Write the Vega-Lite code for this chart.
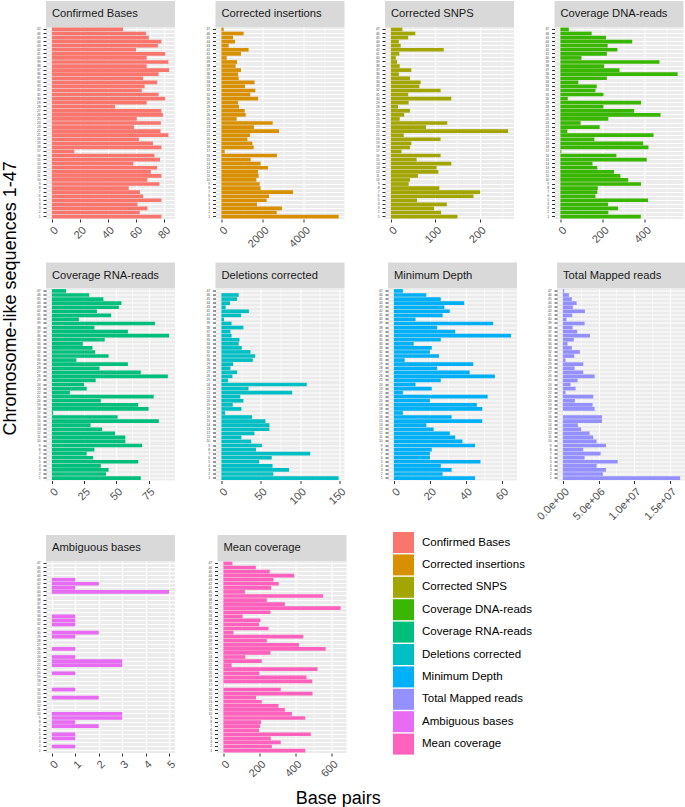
{
"$schema": "https://vega.github.io/schema/vega-lite/v6.json",
"padding": {"left": 2, "top": 1, "right": 0, "bottom": 0},
"datasets": {"d": [
{"m":"Confirmed Bases","s":1,"v":78},{"m":"Confirmed Bases","s":2,"v":62.5},{"m":"Confirmed Bases","s":3,"v":68},{"m":"Confirmed Bases","s":4,"v":61},{"m":"Confirmed Bases","s":5,"v":78},{"m":"Confirmed Bases","s":6,"v":65},{"m":"Confirmed Bases","s":7,"v":62.7},{"m":"Confirmed Bases","s":8,"v":54.7},{"m":"Confirmed Bases","s":9,"v":76.6},{"m":"Confirmed Bases","s":10,"v":68},
{"m":"Confirmed Bases","s":11,"v":78},{"m":"Confirmed Bases","s":12,"v":70.5},{"m":"Confirmed Bases","s":13,"v":75},{"m":"Confirmed Bases","s":14,"v":58},{"m":"Confirmed Bases","s":15,"v":77},{"m":"Confirmed Bases","s":16,"v":73},{"m":"Confirmed Bases","s":17,"v":16},{"m":"Confirmed Bases","s":18,"v":78},{"m":"Confirmed Bases","s":19,"v":72},{"m":"Confirmed Bases","s":20,"v":62},
{"m":"Confirmed Bases","s":21,"v":83},{"m":"Confirmed Bases","s":22,"v":77.4},{"m":"Confirmed Bases","s":23,"v":58.5},{"m":"Confirmed Bases","s":24,"v":77.6},{"m":"Confirmed Bases","s":25,"v":60.5},{"m":"Confirmed Bases","s":26,"v":79},{"m":"Confirmed Bases","s":27,"v":78},{"m":"Confirmed Bases","s":28,"v":45},{"m":"Confirmed Bases","s":29,"v":67.5},{"m":"Confirmed Bases","s":30,"v":80.7},
{"m":"Confirmed Bases","s":31,"v":76},{"m":"Confirmed Bases","s":32,"v":64},{"m":"Confirmed Bases","s":33,"v":66},{"m":"Confirmed Bases","s":34,"v":75},{"m":"Confirmed Bases","s":35,"v":65},{"m":"Confirmed Bases","s":36,"v":76},{"m":"Confirmed Bases","s":37,"v":83.5},{"m":"Confirmed Bases","s":38,"v":67.5},{"m":"Confirmed Bases","s":39,"v":83},{"m":"Confirmed Bases","s":40,"v":67.5},
{"m":"Confirmed Bases","s":41,"v":80.7},{"m":"Confirmed Bases","s":42,"v":60},{"m":"Confirmed Bases","s":43,"v":75.5},{"m":"Confirmed Bases","s":44,"v":78},{"m":"Confirmed Bases","s":45,"v":69},{"m":"Confirmed Bases","s":46,"v":67},{"m":"Confirmed Bases","s":47,"v":50.7},
{"m":"Corrected insertions","s":1,"v":5680},{"m":"Corrected insertions","s":2,"v":2680},{"m":"Corrected insertions","s":3,"v":2935},{"m":"Corrected insertions","s":4,"v":1725},{"m":"Corrected insertions","s":5,"v":2195},{"m":"Corrected insertions","s":6,"v":2310},{"m":"Corrected insertions","s":7,"v":3470},{"m":"Corrected insertions","s":8,"v":1900},{"m":"Corrected insertions","s":9,"v":1855},{"m":"Corrected insertions","s":10,"v":1695},
{"m":"Corrected insertions","s":11,"v":1805},{"m":"Corrected insertions","s":12,"v":1775},{"m":"Corrected insertions","s":13,"v":2260},{"m":"Corrected insertions","s":14,"v":1900},{"m":"Corrected insertions","s":15,"v":1420},{"m":"Corrected insertions","s":16,"v":2690},{"m":"Corrected insertions","s":17,"v":160},{"m":"Corrected insertions","s":18,"v":1565},{"m":"Corrected insertions","s":19,"v":1500},{"m":"Corrected insertions","s":20,"v":1260},
{"m":"Corrected insertions","s":21,"v":1390},{"m":"Corrected insertions","s":22,"v":2790},{"m":"Corrected insertions","s":23,"v":1580},{"m":"Corrected insertions","s":24,"v":2485},{"m":"Corrected insertions","s":25,"v":740},{"m":"Corrected insertions","s":26,"v":1180},{"m":"Corrected insertions","s":27,"v":1130},{"m":"Corrected insertions","s":28,"v":855},{"m":"Corrected insertions","s":29,"v":805},{"m":"Corrected insertions","s":30,"v":1775},
{"m":"Corrected insertions","s":31,"v":1400},{"m":"Corrected insertions","s":32,"v":1645},{"m":"Corrected insertions","s":33,"v":1145},{"m":"Corrected insertions","s":34,"v":1610},{"m":"Corrected insertions","s":35,"v":840},{"m":"Corrected insertions","s":36,"v":805},{"m":"Corrected insertions","s":37,"v":950},{"m":"Corrected insertions","s":38,"v":690},{"m":"Corrected insertions","s":39,"v":760},{"m":"Corrected insertions","s":40,"v":260},
{"m":"Corrected insertions","s":41,"v":950},{"m":"Corrected insertions","s":42,"v":1320},{"m":"Corrected insertions","s":43,"v":355},{"m":"Corrected insertions","s":44,"v":660},{"m":"Corrected insertions","s":45,"v":565},{"m":"Corrected insertions","s":46,"v":1080},{"m":"Corrected insertions","s":47,"v":113},
{"m":"Corrected SNPS","s":1,"v":150},{"m":"Corrected SNPS","s":2,"v":113},{"m":"Corrected SNPS","s":3,"v":97},{"m":"Corrected SNPS","s":4,"v":126},{"m":"Corrected SNPS","s":5,"v":59},{"m":"Corrected SNPS","s":6,"v":186},{"m":"Corrected SNPS","s":7,"v":201},{"m":"Corrected SNPS","s":8,"v":109},{"m":"Corrected SNPS","s":9,"v":40},{"m":"Corrected SNPS","s":10,"v":43},
{"m":"Corrected SNPS","s":11,"v":61},{"m":"Corrected SNPS","s":12,"v":107},{"m":"Corrected SNPS","s":13,"v":103},{"m":"Corrected SNPS","s":14,"v":136},{"m":"Corrected SNPS","s":15,"v":58},{"m":"Corrected SNPS","s":16,"v":112},{"m":"Corrected SNPS","s":17,"v":24},{"m":"Corrected SNPS","s":18,"v":43},{"m":"Corrected SNPS","s":19,"v":46},{"m":"Corrected SNPS","s":20,"v":112},
{"m":"Corrected SNPS","s":21,"v":29},{"m":"Corrected SNPS","s":22,"v":264},{"m":"Corrected SNPS","s":23,"v":79},{"m":"Corrected SNPS","s":24,"v":127},{"m":"Corrected SNPS","s":25,"v":20},{"m":"Corrected SNPS","s":26,"v":30},{"m":"Corrected SNPS","s":27,"v":43},{"m":"Corrected SNPS","s":28,"v":16},{"m":"Corrected SNPS","s":29,"v":40},{"m":"Corrected SNPS","s":30,"v":136},
{"m":"Corrected SNPS","s":31,"v":39},{"m":"Corrected SNPS","s":32,"v":112},{"m":"Corrected SNPS","s":33,"v":64},{"m":"Corrected SNPS","s":34,"v":67},{"m":"Corrected SNPS","s":35,"v":43},{"m":"Corrected SNPS","s":36,"v":18},{"m":"Corrected SNPS","s":37,"v":46},{"m":"Corrected SNPS","s":38,"v":20},{"m":"Corrected SNPS","s":39,"v":14},{"m":"Corrected SNPS","s":40,"v":11},
{"m":"Corrected SNPS","s":41,"v":19},{"m":"Corrected SNPS","s":42,"v":119},{"m":"Corrected SNPS","s":43,"v":22},{"m":"Corrected SNPS","s":44,"v":18},{"m":"Corrected SNPS","s":45,"v":39},{"m":"Corrected SNPS","s":46,"v":55},{"m":"Corrected SNPS","s":47,"v":26},
{"m":"Coverage DNA-reads","s":1,"v":381},{"m":"Coverage DNA-reads","s":2,"v":227},{"m":"Coverage DNA-reads","s":3,"v":273},{"m":"Coverage DNA-reads","s":4,"v":226},{"m":"Coverage DNA-reads","s":5,"v":415},{"m":"Coverage DNA-reads","s":6,"v":166},{"m":"Coverage DNA-reads","s":7,"v":175},{"m":"Coverage DNA-reads","s":8,"v":177},{"m":"Coverage DNA-reads","s":9,"v":382},{"m":"Coverage DNA-reads","s":10,"v":321},
{"m":"Coverage DNA-reads","s":11,"v":284},{"m":"Coverage DNA-reads","s":12,"v":254},{"m":"Coverage DNA-reads","s":13,"v":175},{"m":"Coverage DNA-reads","s":14,"v":152},{"m":"Coverage DNA-reads","s":15,"v":409},{"m":"Coverage DNA-reads","s":16,"v":265},{"m":"Coverage DNA-reads","s":17,"v":5},{"m":"Coverage DNA-reads","s":18,"v":417},{"m":"Coverage DNA-reads","s":19,"v":392},{"m":"Coverage DNA-reads","s":20,"v":161},
{"m":"Coverage DNA-reads","s":21,"v":441},{"m":"Coverage DNA-reads","s":22,"v":33},{"m":"Coverage DNA-reads","s":23,"v":186},{"m":"Coverage DNA-reads","s":24,"v":96},{"m":"Coverage DNA-reads","s":25,"v":227},{"m":"Coverage DNA-reads","s":26,"v":474},{"m":"Coverage DNA-reads","s":27,"v":349},{"m":"Coverage DNA-reads","s":28,"v":204},{"m":"Coverage DNA-reads","s":29,"v":382},{"m":"Coverage DNA-reads","s":30,"v":35},
{"m":"Coverage DNA-reads","s":31,"v":204},{"m":"Coverage DNA-reads","s":32,"v":166},{"m":"Coverage DNA-reads","s":33,"v":172},{"m":"Coverage DNA-reads","s":34,"v":85},{"m":"Coverage DNA-reads","s":35,"v":220},{"m":"Coverage DNA-reads","s":36,"v":555},{"m":"Coverage DNA-reads","s":37,"v":280},{"m":"Coverage DNA-reads","s":38,"v":207},{"m":"Coverage DNA-reads","s":39,"v":469},{"m":"Coverage DNA-reads","s":40,"v":100},
{"m":"Coverage DNA-reads","s":41,"v":220},{"m":"Coverage DNA-reads","s":42,"v":270},{"m":"Coverage DNA-reads","s":43,"v":224},{"m":"Coverage DNA-reads","s":44,"v":340},{"m":"Coverage DNA-reads","s":45,"v":216},{"m":"Coverage DNA-reads","s":46,"v":148},{"m":"Coverage DNA-reads","s":47,"v":40},
{"m":"Coverage RNA-reads","s":1,"v":69},{"m":"Coverage RNA-reads","s":2,"v":42},{"m":"Coverage RNA-reads","s":3,"v":44},{"m":"Coverage RNA-reads","s":4,"v":38},{"m":"Coverage RNA-reads","s":5,"v":67},{"m":"Coverage RNA-reads","s":6,"v":32},{"m":"Coverage RNA-reads","s":7,"v":27},{"m":"Coverage RNA-reads","s":8,"v":33},{"m":"Coverage RNA-reads","s":9,"v":70},{"m":"Coverage RNA-reads","s":10,"v":57},
{"m":"Coverage RNA-reads","s":11,"v":57},{"m":"Coverage RNA-reads","s":12,"v":49},{"m":"Coverage RNA-reads","s":13,"v":39},{"m":"Coverage RNA-reads","s":14,"v":30},{"m":"Coverage RNA-reads","s":15,"v":83},{"m":"Coverage RNA-reads","s":16,"v":51},{"m":"Coverage RNA-reads","s":17,"v":1},{"m":"Coverage RNA-reads","s":18,"v":75},{"m":"Coverage RNA-reads","s":19,"v":67},{"m":"Coverage RNA-reads","s":20,"v":38},
{"m":"Coverage RNA-reads","s":21,"v":79},{"m":"Coverage RNA-reads","s":22,"v":14},{"m":"Coverage RNA-reads","s":23,"v":27},{"m":"Coverage RNA-reads","s":24,"v":25},{"m":"Coverage RNA-reads","s":25,"v":34},{"m":"Coverage RNA-reads","s":26,"v":90},{"m":"Coverage RNA-reads","s":27,"v":69},{"m":"Coverage RNA-reads","s":28,"v":37},{"m":"Coverage RNA-reads","s":29,"v":59},{"m":"Coverage RNA-reads","s":30,"v":19},
{"m":"Coverage RNA-reads","s":31,"v":44},{"m":"Coverage RNA-reads","s":32,"v":33.6},{"m":"Coverage RNA-reads","s":33,"v":31.5},{"m":"Coverage RNA-reads","s":34,"v":24},{"m":"Coverage RNA-reads","s":35,"v":41},{"m":"Coverage RNA-reads","s":36,"v":91},{"m":"Coverage RNA-reads","s":37,"v":59},{"m":"Coverage RNA-reads","s":38,"v":33},{"m":"Coverage RNA-reads","s":39,"v":80},{"m":"Coverage RNA-reads","s":40,"v":21},
{"m":"Coverage RNA-reads","s":41,"v":46},{"m":"Coverage RNA-reads","s":42,"v":35},{"m":"Coverage RNA-reads","s":43,"v":52},{"m":"Coverage RNA-reads","s":44,"v":54},{"m":"Coverage RNA-reads","s":45,"v":40},{"m":"Coverage RNA-reads","s":46,"v":29},{"m":"Coverage RNA-reads","s":47,"v":11},
{"m":"Deletions corrected","s":1,"v":149},{"m":"Deletions corrected","s":2,"v":66},{"m":"Deletions corrected","s":3,"v":86},{"m":"Deletions corrected","s":4,"v":65},{"m":"Deletions corrected","s":5,"v":48},{"m":"Deletions corrected","s":6,"v":64},{"m":"Deletions corrected","s":7,"v":113},{"m":"Deletions corrected","s":8,"v":44},{"m":"Deletions corrected","s":9,"v":51.5},{"m":"Deletions corrected","s":10,"v":38},
{"m":"Deletions corrected","s":11,"v":25.5},{"m":"Deletions corrected","s":12,"v":42},{"m":"Deletions corrected","s":13,"v":61},{"m":"Deletions corrected","s":14,"v":61},{"m":"Deletions corrected","s":15,"v":56},{"m":"Deletions corrected","s":16,"v":39},{"m":"Deletions corrected","s":17,"v":4.7},{"m":"Deletions corrected","s":18,"v":25.5},{"m":"Deletions corrected","s":19,"v":14.5},{"m":"Deletions corrected","s":20,"v":28},
{"m":"Deletions corrected","s":21,"v":24},{"m":"Deletions corrected","s":22,"v":90},{"m":"Deletions corrected","s":23,"v":34.5},{"m":"Deletions corrected","s":24,"v":108.5},{"m":"Deletions corrected","s":25,"v":8.5},{"m":"Deletions corrected","s":26,"v":14},{"m":"Deletions corrected","s":27,"v":20},{"m":"Deletions corrected","s":28,"v":11.5},{"m":"Deletions corrected","s":29,"v":15},{"m":"Deletions corrected","s":30,"v":40},
{"m":"Deletions corrected","s":31,"v":43},{"m":"Deletions corrected","s":32,"v":37},{"m":"Deletions corrected","s":33,"v":26},{"m":"Deletions corrected","s":34,"v":22},{"m":"Deletions corrected","s":35,"v":23},{"m":"Deletions corrected","s":36,"v":13},{"m":"Deletions corrected","s":37,"v":11.5},{"m":"Deletions corrected","s":38,"v":28},{"m":"Deletions corrected","s":39,"v":13},{"m":"Deletions corrected","s":40,"v":3.4},
{"m":"Deletions corrected","s":41,"v":25},{"m":"Deletions corrected","s":42,"v":35},{"m":"Deletions corrected","s":43,"v":5.5},{"m":"Deletions corrected","s":44,"v":11},{"m":"Deletions corrected","s":45,"v":20},{"m":"Deletions corrected","s":46,"v":22},{"m":"Deletions corrected","s":47,"v":0},
{"m":"Minimum Depth","s":1,"v":45},{"m":"Minimum Depth","s":2,"v":27},{"m":"Minimum Depth","s":3,"v":32},{"m":"Minimum Depth","s":4,"v":26},{"m":"Minimum Depth","s":5,"v":48},{"m":"Minimum Depth","s":6,"v":20},{"m":"Minimum Depth","s":7,"v":20},{"m":"Minimum Depth","s":8,"v":21},{"m":"Minimum Depth","s":9,"v":45},{"m":"Minimum Depth","s":10,"v":38},
{"m":"Minimum Depth","s":11,"v":34},{"m":"Minimum Depth","s":12,"v":31},{"m":"Minimum Depth","s":13,"v":22},{"m":"Minimum Depth","s":14,"v":18},{"m":"Minimum Depth","s":15,"v":49},{"m":"Minimum Depth","s":16,"v":32},{"m":"Minimum Depth","s":17,"v":5},{"m":"Minimum Depth","s":18,"v":49},{"m":"Minimum Depth","s":19,"v":46},{"m":"Minimum Depth","s":20,"v":20},
{"m":"Minimum Depth","s":21,"v":52},{"m":"Minimum Depth","s":22,"v":5},{"m":"Minimum Depth","s":23,"v":21},{"m":"Minimum Depth","s":24,"v":12},{"m":"Minimum Depth","s":25,"v":26},{"m":"Minimum Depth","s":26,"v":56},{"m":"Minimum Depth","s":27,"v":42},{"m":"Minimum Depth","s":28,"v":24},{"m":"Minimum Depth","s":29,"v":44},{"m":"Minimum Depth","s":30,"v":6},
{"m":"Minimum Depth","s":31,"v":25},{"m":"Minimum Depth","s":32,"v":20},{"m":"Minimum Depth","s":33,"v":21},{"m":"Minimum Depth","s":34,"v":11},{"m":"Minimum Depth","s":35,"v":26},{"m":"Minimum Depth","s":36,"v":65},{"m":"Minimum Depth","s":37,"v":34},{"m":"Minimum Depth","s":38,"v":24},{"m":"Minimum Depth","s":39,"v":55},{"m":"Minimum Depth","s":40,"v":12},
{"m":"Minimum Depth","s":41,"v":27},{"m":"Minimum Depth","s":42,"v":31},{"m":"Minimum Depth","s":43,"v":28},{"m":"Minimum Depth","s":44,"v":39},{"m":"Minimum Depth","s":45,"v":26},{"m":"Minimum Depth","s":46,"v":18},{"m":"Minimum Depth","s":47,"v":5},
{"m":"Total Mapped reads","s":1,"v":16400000},{"m":"Total Mapped reads","s":2,"v":5600000},{"m":"Total Mapped reads","s":3,"v":6030000},{"m":"Total Mapped reads","s":4,"v":4720000},{"m":"Total Mapped reads","s":5,"v":7660000},{"m":"Total Mapped reads","s":6,"v":3040000},{"m":"Total Mapped reads","s":7,"v":5280000},{"m":"Total Mapped reads","s":8,"v":2850000},{"m":"Total Mapped reads","s":9,"v":6030000},{"m":"Total Mapped reads","s":10,"v":4720000},
{"m":"Total Mapped reads","s":11,"v":4250000},{"m":"Total Mapped reads","s":12,"v":3740000},{"m":"Total Mapped reads","s":13,"v":2570000},{"m":"Total Mapped reads","s":14,"v":2100000},{"m":"Total Mapped reads","s":15,"v":5470000},{"m":"Total Mapped reads","s":16,"v":5470000},{"m":"Total Mapped reads","s":17,"v":30000},{"m":"Total Mapped reads","s":18,"v":4440000},{"m":"Total Mapped reads","s":19,"v":4160000},{"m":"Total Mapped reads","s":20,"v":1680000},
{"m":"Total Mapped reads","s":21,"v":4250000},{"m":"Total Mapped reads","s":22,"v":370000},{"m":"Total Mapped reads","s":23,"v":1780000},{"m":"Total Mapped reads","s":24,"v":1070000},{"m":"Total Mapped reads","s":25,"v":2060000},{"m":"Total Mapped reads","s":26,"v":4440000},{"m":"Total Mapped reads","s":27,"v":2850000},{"m":"Total Mapped reads","s":28,"v":1640000},{"m":"Total Mapped reads","s":29,"v":2850000},{"m":"Total Mapped reads","s":30,"v":370000},
{"m":"Total Mapped reads","s":31,"v":1590000},{"m":"Total Mapped reads","s":32,"v":2380000},{"m":"Total Mapped reads","s":33,"v":1260000},{"m":"Total Mapped reads","s":34,"v":650000},{"m":"Total Mapped reads","s":35,"v":1540000},{"m":"Total Mapped reads","s":36,"v":3790000},{"m":"Total Mapped reads","s":37,"v":2000000},{"m":"Total Mapped reads","s":38,"v":1360000},{"m":"Total Mapped reads","s":39,"v":3040000},{"m":"Total Mapped reads","s":40,"v":510000},
{"m":"Total Mapped reads","s":41,"v":1310000},{"m":"Total Mapped reads","s":42,"v":3080000},{"m":"Total Mapped reads","s":43,"v":1400000},{"m":"Total Mapped reads","s":44,"v":1920000},{"m":"Total Mapped reads","s":45,"v":1260000},{"m":"Total Mapped reads","s":46,"v":840000},{"m":"Total Mapped reads","s":47,"v":190000},
{"m":"Ambiguous bases","s":1,"v":0},{"m":"Ambiguous bases","s":2,"v":1},{"m":"Ambiguous bases","s":3,"v":0},{"m":"Ambiguous bases","s":4,"v":1},{"m":"Ambiguous bases","s":5,"v":1},{"m":"Ambiguous bases","s":6,"v":0},{"m":"Ambiguous bases","s":7,"v":2},{"m":"Ambiguous bases","s":8,"v":1},{"m":"Ambiguous bases","s":9,"v":3},{"m":"Ambiguous bases","s":10,"v":3},
{"m":"Ambiguous bases","s":11,"v":0},{"m":"Ambiguous bases","s":12,"v":0},{"m":"Ambiguous bases","s":13,"v":0},{"m":"Ambiguous bases","s":14,"v":2},{"m":"Ambiguous bases","s":15,"v":0},{"m":"Ambiguous bases","s":16,"v":1},{"m":"Ambiguous bases","s":17,"v":0},{"m":"Ambiguous bases","s":18,"v":0},{"m":"Ambiguous bases","s":19,"v":0},{"m":"Ambiguous bases","s":20,"v":1},
{"m":"Ambiguous bases","s":21,"v":0},{"m":"Ambiguous bases","s":22,"v":3},{"m":"Ambiguous bases","s":23,"v":3},{"m":"Ambiguous bases","s":24,"v":1},{"m":"Ambiguous bases","s":25,"v":0},{"m":"Ambiguous bases","s":26,"v":1},{"m":"Ambiguous bases","s":27,"v":0},{"m":"Ambiguous bases","s":28,"v":0},{"m":"Ambiguous bases","s":29,"v":1},{"m":"Ambiguous bases","s":30,"v":2},
{"m":"Ambiguous bases","s":31,"v":0},{"m":"Ambiguous bases","s":32,"v":1},{"m":"Ambiguous bases","s":33,"v":1},{"m":"Ambiguous bases","s":34,"v":1},{"m":"Ambiguous bases","s":35,"v":0},{"m":"Ambiguous bases","s":36,"v":0},{"m":"Ambiguous bases","s":37,"v":0},{"m":"Ambiguous bases","s":38,"v":0},{"m":"Ambiguous bases","s":39,"v":0},{"m":"Ambiguous bases","s":40,"v":5},
{"m":"Ambiguous bases","s":41,"v":1},{"m":"Ambiguous bases","s":42,"v":2},{"m":"Ambiguous bases","s":43,"v":1},{"m":"Ambiguous bases","s":44,"v":0},{"m":"Ambiguous bases","s":45,"v":0},{"m":"Ambiguous bases","s":46,"v":0},{"m":"Ambiguous bases","s":47,"v":0},
{"m":"Mean coverage","s":1,"v":454},{"m":"Mean coverage","s":2,"v":269},{"m":"Mean coverage","s":3,"v":318},{"m":"Mean coverage","s":4,"v":263},{"m":"Mean coverage","s":5,"v":485},{"m":"Mean coverage","s":6,"v":198},{"m":"Mean coverage","s":7,"v":204},{"m":"Mean coverage","s":8,"v":209},{"m":"Mean coverage","s":9,"v":454},{"m":"Mean coverage","s":10,"v":380},
{"m":"Mean coverage","s":11,"v":341},{"m":"Mean coverage","s":12,"v":306},{"m":"Mean coverage","s":13,"v":213},{"m":"Mean coverage","s":14,"v":181},{"m":"Mean coverage","s":15,"v":494},{"m":"Mean coverage","s":16,"v":318},{"m":"Mean coverage","s":17,"v":2},{"m":"Mean coverage","s":18,"v":493},{"m":"Mean coverage","s":19,"v":461},{"m":"Mean coverage","s":20,"v":200},
{"m":"Mean coverage","s":21,"v":522},{"m":"Mean coverage","s":22,"v":46},{"m":"Mean coverage","s":23,"v":213},{"m":"Mean coverage","s":24,"v":122},{"m":"Mean coverage","s":25,"v":261},{"m":"Mean coverage","s":26,"v":567},{"m":"Mean coverage","s":27,"v":419},{"m":"Mean coverage","s":28,"v":241},{"m":"Mean coverage","s":29,"v":443},{"m":"Mean coverage","s":30,"v":56},
{"m":"Mean coverage","s":31,"v":250},{"m":"Mean coverage","s":32,"v":198},{"m":"Mean coverage","s":33,"v":206},{"m":"Mean coverage","s":34,"v":107},{"m":"Mean coverage","s":35,"v":261},{"m":"Mean coverage","s":36,"v":650},{"m":"Mean coverage","s":37,"v":341},{"m":"Mean coverage","s":38,"v":241},{"m":"Mean coverage","s":39,"v":552},{"m":"Mean coverage","s":40,"v":120},
{"m":"Mean coverage","s":41,"v":265},{"m":"Mean coverage","s":42,"v":307},{"m":"Mean coverage","s":43,"v":278},{"m":"Mean coverage","s":44,"v":393},{"m":"Mean coverage","s":45,"v":257},{"m":"Mean coverage","s":46,"v":180},{"m":"Mean coverage","s":47,"v":50}
]},
"data": {"name": "d"},
"title": {"text": "Chromosome-like sequences 1-47", "orient": "left", "anchor": "middle", "fontSize": 18, "fontWeight": "normal", "color": "#000000", "font": "Liberation Sans", "offset": 16, "dx": 106},
"vconcat": [{
"title": {"text": "Base pairs", "orient": "bottom", "anchor": "middle", "fontSize": 18, "fontWeight": "normal", "color": "#000000", "font": "Liberation Sans", "offset": 11, "dx": -23},
"spacing": 12.5,
"vconcat": [
{"hconcat": [
{"vconcat": [
{"width": 129, "height": 26, "view": {"fill": "#D9D9D9", "stroke": null}, "transform": [{"filter": "datum.m === 'Confirmed Bases' && datum.s === 47"}], "mark": {"type": "text", "align": "left", "baseline": "middle", "fontSize": 11.2, "color": "#1A1A1A"}, "encoding": {"text": {"field": "m"}, "x": {"value": 6}}},
{"width": 129, "height": 192, "transform": [{"filter": "datum.m === 'Confirmed Bases'"}], "mark": "bar", "encoding": {
"y": {"field": "s", "type": "ordinal", "sort": "descending", "scale": {"paddingInner": 0.1, "paddingOuter": 0.15}, "axis": {"title": null}},
"x": {"field": "v", "type": "quantitative", "scale": {"domain": [-4.175, 87.675], "nice": false}, "axis": {"title": null, "values": [0,10,20,30,40,50,60,70,80], "format": "d", "labelExpr": "datum.value % 20 === 0 ? datum.label : ''", "gridWidth": {"condition": {"test": "datum.value % 20 === 0", "value": 1}, "value": 0.5}, "tickOpacity": {"condition": {"test": "datum.value % 20 === 0", "value": 1}, "value": 0}}},
"color": {"field": "m", "type": "nominal", "scale": {"domain": ["Confirmed Bases","Corrected insertions","Corrected SNPS","Coverage DNA-reads","Coverage RNA-reads","Deletions corrected","Minimum Depth","Total Mapped reads","Ambiguous bases","Mean coverage"], "range": ["#F8766D","#D89000","#A3A500","#39B600","#00BF7D","#00BFC4","#00B0F6","#9590FF","#E76BF3","#FF62BC"]}, "legend": {"orient": "none", "legendX": 347, "legendY": 531}}}}
], "spacing": 0, "bounds": "flush"},
{"vconcat": [
{"width": 129, "height": 26, "view": {"fill": "#D9D9D9", "stroke": null}, "transform": [{"filter": "datum.m === 'Corrected insertions' && datum.s === 47"}], "mark": {"type": "text", "align": "left", "baseline": "middle", "fontSize": 11.2, "color": "#1A1A1A"}, "encoding": {"text": {"field": "m"}, "x": {"value": 6}}},
{"width": 129, "height": 192, "transform": [{"filter": "datum.m === 'Corrected insertions'"}], "mark": "bar", "encoding": {
"y": {"field": "s", "type": "ordinal", "sort": "descending", "scale": {"paddingInner": 0.1, "paddingOuter": 0.15}, "axis": {"title": null}},
"x": {"field": "v", "type": "quantitative", "scale": {"domain": [-284, 5964], "nice": false}, "axis": {"title": null, "values": [0,1000,2000,3000,4000,5000], "format": "d", "labelExpr": "datum.value % 2000 === 0 ? datum.label : ''", "gridWidth": {"condition": {"test": "datum.value % 2000 === 0", "value": 1}, "value": 0.5}, "tickOpacity": {"condition": {"test": "datum.value % 2000 === 0", "value": 1}, "value": 0}}},
"color": {"field": "m", "type": "nominal", "scale": {"domain": ["Confirmed Bases","Corrected insertions","Corrected SNPS","Coverage DNA-reads","Coverage RNA-reads","Deletions corrected","Minimum Depth","Total Mapped reads","Ambiguous bases","Mean coverage"], "range": ["#F8766D","#D89000","#A3A500","#39B600","#00BF7D","#00BFC4","#00B0F6","#9590FF","#E76BF3","#FF62BC"]}, "legend": {"orient": "none", "legendX": 347, "legendY": 531}}}}
], "spacing": 0, "bounds": "flush"},
{"vconcat": [
{"width": 129, "height": 26, "view": {"fill": "#D9D9D9", "stroke": null}, "transform": [{"filter": "datum.m === 'Corrected SNPS' && datum.s === 47"}], "mark": {"type": "text", "align": "left", "baseline": "middle", "fontSize": 11.2, "color": "#1A1A1A"}, "encoding": {"text": {"field": "m"}, "x": {"value": 6}}},
{"width": 129, "height": 192, "transform": [{"filter": "datum.m === 'Corrected SNPS'"}], "mark": "bar", "encoding": {
"y": {"field": "s", "type": "ordinal", "sort": "descending", "scale": {"paddingInner": 0.1, "paddingOuter": 0.15}, "axis": {"title": null}},
"x": {"field": "v", "type": "quantitative", "scale": {"domain": [-13.2, 277.2], "nice": false}, "axis": {"title": null, "values": [0,50,100,150,200,250], "format": "d", "labelExpr": "datum.value % 100 === 0 ? datum.label : ''", "gridWidth": {"condition": {"test": "datum.value % 100 === 0", "value": 1}, "value": 0.5}, "tickOpacity": {"condition": {"test": "datum.value % 100 === 0", "value": 1}, "value": 0}}},
"color": {"field": "m", "type": "nominal", "scale": {"domain": ["Confirmed Bases","Corrected insertions","Corrected SNPS","Coverage DNA-reads","Coverage RNA-reads","Deletions corrected","Minimum Depth","Total Mapped reads","Ambiguous bases","Mean coverage"], "range": ["#F8766D","#D89000","#A3A500","#39B600","#00BF7D","#00BFC4","#00B0F6","#9590FF","#E76BF3","#FF62BC"]}, "legend": {"orient": "none", "legendX": 347, "legendY": 531}}}}
], "spacing": 0, "bounds": "flush"},
{"vconcat": [
{"width": 129, "height": 26, "view": {"fill": "#D9D9D9", "stroke": null}, "transform": [{"filter": "datum.m === 'Coverage DNA-reads' && datum.s === 47"}], "mark": {"type": "text", "align": "left", "baseline": "middle", "fontSize": 11.2, "color": "#1A1A1A"}, "encoding": {"text": {"field": "m"}, "x": {"value": 6}}},
{"width": 129, "height": 192, "transform": [{"filter": "datum.m === 'Coverage DNA-reads'"}], "mark": "bar", "encoding": {
"y": {"field": "s", "type": "ordinal", "sort": "descending", "scale": {"paddingInner": 0.1, "paddingOuter": 0.15}, "axis": {"title": null}},
"x": {"field": "v", "type": "quantitative", "scale": {"domain": [-27.75, 582.75], "nice": false}, "axis": {"title": null, "values": [0,100,200,300,400,500], "format": "d", "labelExpr": "datum.value % 200 === 0 ? datum.label : ''", "gridWidth": {"condition": {"test": "datum.value % 200 === 0", "value": 1}, "value": 0.5}, "tickOpacity": {"condition": {"test": "datum.value % 200 === 0", "value": 1}, "value": 0}}},
"color": {"field": "m", "type": "nominal", "scale": {"domain": ["Confirmed Bases","Corrected insertions","Corrected SNPS","Coverage DNA-reads","Coverage RNA-reads","Deletions corrected","Minimum Depth","Total Mapped reads","Ambiguous bases","Mean coverage"], "range": ["#F8766D","#D89000","#A3A500","#39B600","#00BF7D","#00BFC4","#00B0F6","#9590FF","#E76BF3","#FF62BC"]}, "legend": {"orient": "none", "legendX": 347, "legendY": 531}}}}
], "spacing": 0, "bounds": "flush"}
], "spacing": 30.5},
{"hconcat": [
{"hconcat": [
{"vconcat": [
{"width": 129, "height": 26, "view": {"fill": "#D9D9D9", "stroke": null}, "transform": [{"filter": "datum.m === 'Coverage RNA-reads' && datum.s === 47"}], "mark": {"type": "text", "align": "left", "baseline": "middle", "fontSize": 11.2, "color": "#1A1A1A"}, "encoding": {"text": {"field": "m"}, "x": {"value": 6}}},
{"width": 129, "height": 192, "transform": [{"filter": "datum.m === 'Coverage RNA-reads'"}], "mark": "bar", "encoding": {
"y": {"field": "s", "type": "ordinal", "sort": "descending", "scale": {"paddingInner": 0.1, "paddingOuter": 0.15}, "axis": {"title": null}},
"x": {"field": "v", "type": "quantitative", "scale": {"domain": [-4.55, 95.55], "nice": false}, "axis": {"title": null, "values": [0,12.5,25,37.5,50,62.5,75,87.5], "format": "d", "labelExpr": "datum.value % 25 === 0 ? datum.label : ''", "gridWidth": {"condition": {"test": "datum.value % 25 === 0", "value": 1}, "value": 0.5}, "tickOpacity": {"condition": {"test": "datum.value % 25 === 0", "value": 1}, "value": 0}}},
"color": {"field": "m", "type": "nominal", "scale": {"domain": ["Confirmed Bases","Corrected insertions","Corrected SNPS","Coverage DNA-reads","Coverage RNA-reads","Deletions corrected","Minimum Depth","Total Mapped reads","Ambiguous bases","Mean coverage"], "range": ["#F8766D","#D89000","#A3A500","#39B600","#00BF7D","#00BFC4","#00B0F6","#9590FF","#E76BF3","#FF62BC"]}, "legend": {"orient": "none", "legendX": 347, "legendY": 531}}}}
], "spacing": 0, "bounds": "flush"},
{"vconcat": [
{"width": 129, "height": 26, "view": {"fill": "#D9D9D9", "stroke": null}, "transform": [{"filter": "datum.m === 'Deletions corrected' && datum.s === 47"}], "mark": {"type": "text", "align": "left", "baseline": "middle", "fontSize": 11.2, "color": "#1A1A1A"}, "encoding": {"text": {"field": "m"}, "x": {"value": 6}}},
{"width": 129, "height": 192, "transform": [{"filter": "datum.m === 'Deletions corrected'"}], "mark": "bar", "encoding": {
"y": {"field": "s", "type": "ordinal", "sort": "descending", "scale": {"paddingInner": 0.1, "paddingOuter": 0.15}, "axis": {"title": null}},
"x": {"field": "v", "type": "quantitative", "scale": {"domain": [-7.45, 156.45], "nice": false}, "axis": {"title": null, "values": [0,25,50,75,100,125,150], "format": "d", "labelExpr": "datum.value % 50 === 0 ? datum.label : ''", "gridWidth": {"condition": {"test": "datum.value % 50 === 0", "value": 1}, "value": 0.5}, "tickOpacity": {"condition": {"test": "datum.value % 50 === 0", "value": 1}, "value": 0}}},
"color": {"field": "m", "type": "nominal", "scale": {"domain": ["Confirmed Bases","Corrected insertions","Corrected SNPS","Coverage DNA-reads","Coverage RNA-reads","Deletions corrected","Minimum Depth","Total Mapped reads","Ambiguous bases","Mean coverage"], "range": ["#F8766D","#D89000","#A3A500","#39B600","#00BF7D","#00BFC4","#00B0F6","#9590FF","#E76BF3","#FF62BC"]}, "legend": {"orient": "none", "legendX": 347, "legendY": 531}}}}
], "spacing": 0, "bounds": "flush"},
{"vconcat": [
{"width": 129, "height": 26, "view": {"fill": "#D9D9D9", "stroke": null}, "transform": [{"filter": "datum.m === 'Minimum Depth' && datum.s === 47"}], "mark": {"type": "text", "align": "left", "baseline": "middle", "fontSize": 11.2, "color": "#1A1A1A"}, "encoding": {"text": {"field": "m"}, "x": {"value": 6}}},
{"width": 129, "height": 192, "transform": [{"filter": "datum.m === 'Minimum Depth'"}], "mark": "bar", "encoding": {
"y": {"field": "s", "type": "ordinal", "sort": "descending", "scale": {"paddingInner": 0.1, "paddingOuter": 0.15}, "axis": {"title": null}},
"x": {"field": "v", "type": "quantitative", "scale": {"domain": [-3.25, 68.25], "nice": false}, "axis": {"title": null, "values": [0,10,20,30,40,50,60], "format": "d", "labelExpr": "datum.value % 20 === 0 ? datum.label : ''", "gridWidth": {"condition": {"test": "datum.value % 20 === 0", "value": 1}, "value": 0.5}, "tickOpacity": {"condition": {"test": "datum.value % 20 === 0", "value": 1}, "value": 0}}},
"color": {"field": "m", "type": "nominal", "scale": {"domain": ["Confirmed Bases","Corrected insertions","Corrected SNPS","Coverage DNA-reads","Coverage RNA-reads","Deletions corrected","Minimum Depth","Total Mapped reads","Ambiguous bases","Mean coverage"], "range": ["#F8766D","#D89000","#A3A500","#39B600","#00BF7D","#00BFC4","#00B0F6","#9590FF","#E76BF3","#FF62BC"]}, "legend": {"orient": "none", "legendX": 347, "legendY": 531}}}}
], "spacing": 0, "bounds": "flush"}
], "spacing": 30.5},
{"vconcat": [
{"width": 129, "height": 26, "view": {"fill": "#D9D9D9", "stroke": null}, "transform": [{"filter": "datum.m === 'Total Mapped reads' && datum.s === 47"}], "mark": {"type": "text", "align": "left", "baseline": "middle", "fontSize": 11.2, "color": "#1A1A1A"}, "encoding": {"text": {"field": "m"}, "x": {"value": 6}}},
{"width": 129, "height": 192, "transform": [{"filter": "datum.m === 'Total Mapped reads'"}], "mark": "bar", "encoding": {
"y": {"field": "s", "type": "ordinal", "sort": "descending", "scale": {"paddingInner": 0.1, "paddingOuter": 0.15}, "axis": {"title": null}},
"x": {"field": "v", "type": "quantitative", "scale": {"domain": [-820000, 17220000], "nice": false}, "axis": {"title": null, "values": [0,2500000,5000000,7500000,10000000,12500000,15000000], "labelExpr": "datum.value % 5000000 === 0 ? replace(format(datum.value, '.1e'), 'e+', 'e+0') : ''", "gridWidth": {"condition": {"test": "datum.value % 5000000 === 0", "value": 1}, "value": 0.5}, "tickOpacity": {"condition": {"test": "datum.value % 5000000 === 0", "value": 1}, "value": 0}}},
"color": {"field": "m", "type": "nominal", "scale": {"domain": ["Confirmed Bases","Corrected insertions","Corrected SNPS","Coverage DNA-reads","Coverage RNA-reads","Deletions corrected","Minimum Depth","Total Mapped reads","Ambiguous bases","Mean coverage"], "range": ["#F8766D","#D89000","#A3A500","#39B600","#00BF7D","#00BFC4","#00B0F6","#9590FF","#E76BF3","#FF62BC"]}, "legend": {"orient": "none", "legendX": 347, "legendY": 531}}}}
], "spacing": 0, "bounds": "flush"}
], "spacing": 17},
{"hconcat": [
{"vconcat": [
{"width": 129, "height": 26, "view": {"fill": "#D9D9D9", "stroke": null}, "transform": [{"filter": "datum.m === 'Ambiguous bases' && datum.s === 47"}], "mark": {"type": "text", "align": "left", "baseline": "middle", "fontSize": 11.2, "color": "#1A1A1A"}, "encoding": {"text": {"field": "m"}, "x": {"value": 6}}},
{"width": 129, "height": 192, "transform": [{"filter": "datum.m === 'Ambiguous bases'"}], "mark": "bar", "encoding": {
"y": {"field": "s", "type": "ordinal", "sort": "descending", "scale": {"paddingInner": 0.1, "paddingOuter": 0.15}, "axis": {"title": null}},
"x": {"field": "v", "type": "quantitative", "scale": {"domain": [-0.25, 5.25], "nice": false}, "axis": {"title": null, "values": [0,0.5,1,1.5,2,2.5,3,3.5,4,4.5,5], "format": "d", "labelExpr": "datum.value % 1 === 0 ? datum.label : ''", "gridWidth": {"condition": {"test": "datum.value % 1 === 0", "value": 1}, "value": 0.5}, "tickOpacity": {"condition": {"test": "datum.value % 1 === 0", "value": 1}, "value": 0}}},
"color": {"field": "m", "type": "nominal", "scale": {"domain": ["Confirmed Bases","Corrected insertions","Corrected SNPS","Coverage DNA-reads","Coverage RNA-reads","Deletions corrected","Minimum Depth","Total Mapped reads","Ambiguous bases","Mean coverage"], "range": ["#F8766D","#D89000","#A3A500","#39B600","#00BF7D","#00BFC4","#00B0F6","#9590FF","#E76BF3","#FF62BC"]}, "legend": {"orient": "none", "legendX": 347, "legendY": 531}}}}
], "spacing": 0, "bounds": "flush"},
{"vconcat": [
{"width": 129, "height": 26, "view": {"fill": "#D9D9D9", "stroke": null}, "transform": [{"filter": "datum.m === 'Mean coverage' && datum.s === 47"}], "mark": {"type": "text", "align": "left", "baseline": "middle", "fontSize": 11.2, "color": "#1A1A1A"}, "encoding": {"text": {"field": "m"}, "x": {"value": 6}}},
{"width": 129, "height": 192, "transform": [{"filter": "datum.m === 'Mean coverage'"}], "mark": "bar", "encoding": {
"y": {"field": "s", "type": "ordinal", "sort": "descending", "scale": {"paddingInner": 0.1, "paddingOuter": 0.15}, "axis": {"title": null}},
"x": {"field": "v", "type": "quantitative", "scale": {"domain": [-32.5, 682.5], "nice": false}, "axis": {"title": null, "values": [0,100,200,300,400,500,600], "format": "d", "labelExpr": "datum.value % 200 === 0 ? datum.label : ''", "gridWidth": {"condition": {"test": "datum.value % 200 === 0", "value": 1}, "value": 0.5}, "tickOpacity": {"condition": {"test": "datum.value % 200 === 0", "value": 1}, "value": 0}}},
"color": {"field": "m", "type": "nominal", "scale": {"domain": ["Confirmed Bases","Corrected insertions","Corrected SNPS","Coverage DNA-reads","Coverage RNA-reads","Deletions corrected","Minimum Depth","Total Mapped reads","Ambiguous bases","Mean coverage"], "range": ["#F8766D","#D89000","#A3A500","#39B600","#00BF7D","#00BFC4","#00B0F6","#9590FF","#E76BF3","#FF62BC"]}, "legend": {"orient": "none", "legendX": 347, "legendY": 531}}}}
], "spacing": 0, "bounds": "flush"}
], "spacing": 30.5}
]
}],
"config": {
"font": "Liberation Sans",
"view": {"fill": "#EBEBEB", "stroke": null},
"axis": {"domain": false, "gridColor": "#FFFFFF", "tickColor": "#333333", "labelColor": "#4D4D4D", "labelFont": "Liberation Sans"},
"axisX": {"labelAngle": -45, "labelAlign": "right", "labelBaseline": "top", "labelFontSize": 11, "labelPadding": 2, "tickSize": 3, "labelOverlap": false, "labelBound": false, "labelFlush": false, "grid": true},
"axisY": {"labelFontSize": 3.4, "labelPadding": 2.8, "tickSize": 3, "labelOverlap": false, "bandPosition": 0.5, "grid": true, "gridWidth": 1},
"legend": {"title": null, "symbolType": "square", "symbolSize": 441, "symbolStrokeWidth": 0, "symbolOpacity": 1, "labelFontSize": 11.5, "labelColor": "#000000", "labelFont": "Liberation Sans", "labelOffset": 8, "rowPadding": 1.4, "labelLimit": 200}
}
}
